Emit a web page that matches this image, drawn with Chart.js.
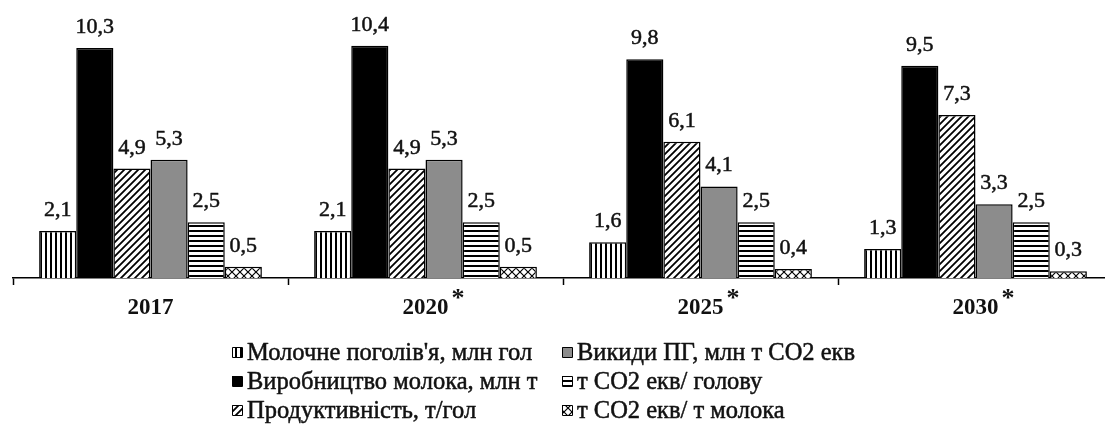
<!DOCTYPE html>
<html>
<head>
<meta charset="utf-8">
<script src="https://cdn.jsdelivr.net/npm/chart.js@4/dist/chart.umd.min.js"></script>
<style>
    html, body { margin: 0; padding: 0; background: #fff; overflow: hidden; }
    #wrap { width: 1120px; height: 425px; }
</style>
</head>
<body>
<div id="wrap"><canvas id="milkChart"></canvas></div>
<script>
// Дані діаграми
const categories = ['2017', '2020', '2025', '2030'];
const forecastMarks = ['', '*', '*', '*'];
const seriesNames = [
    "Молочне поголів'я, млн гол",
    'Виробництво молока, млн т',
    'Продуктивність, т/гол',
    'Викиди ПГ, млн т СО2 екв',
    'т СО2 екв/ голову',
    'т СО2 екв/ т молока'
];
const dairyHerd = [2.1, 2.1, 1.6, 1.3];
const milkOutput = [10.3, 10.4, 9.8, 9.5];
const productivity = [4.9, 4.9, 6.1, 7.3];
const ghgEmissions = [5.3, 5.3, 4.1, 3.3];
const co2PerHead = [2.5, 2.5, 2.5, 2.5];
const co2PerTonMilk = [0.5, 0.5, 0.4, 0.3];

const FONT = '"Liberation Serif", "Times New Roman", serif';

// Штрихування
function makePattern(type) {
    const c = document.createElement('canvas');
    const ctx = c.getContext('2d');
    if (type === 'vertical') {
        c.width = 5; c.height = 5;
        ctx.fillStyle = '#fff'; ctx.fillRect(0, 0, 5, 5);
        ctx.fillStyle = '#000'; ctx.fillRect(0, 0, 2, 5);
    } else if (type === 'horizontal') {
        c.width = 5; c.height = 5;
        ctx.fillStyle = '#fff'; ctx.fillRect(0, 0, 5, 5);
        ctx.fillStyle = '#000'; ctx.fillRect(0, 0, 5, 2);
    } else if (type === 'diagonal') {
        c.width = 7; c.height = 7;
        ctx.fillStyle = '#fff'; ctx.fillRect(0, 0, 7, 7);
        ctx.strokeStyle = '#000'; ctx.lineWidth = 1.8;
        ctx.beginPath();
        ctx.moveTo(-1, 8); ctx.lineTo(8, -1);
        ctx.moveTo(-8, 8); ctx.lineTo(1, -1);
        ctx.moveTo(6, 8); ctx.lineTo(15, -1);
        ctx.stroke();
    } else if (type === 'cross') {
        c.width = 8; c.height = 8;
        ctx.fillStyle = '#fff'; ctx.fillRect(0, 0, 8, 8);
        ctx.strokeStyle = '#000'; ctx.lineWidth = 1.2;
        ctx.beginPath();
        ctx.moveTo(0, 0); ctx.lineTo(8, 8);
        ctx.moveTo(8, 0); ctx.lineTo(0, 8);
        ctx.stroke();
    }
    return document.getElementById('milkChart').getContext('2d').createPattern(c, 'repeat');
}

const fills = [
    makePattern('vertical'),
    '#000000',
    makePattern('diagonal'),
    '#8c8c8c',
    makePattern('horizontal'),
    makePattern('cross')
];
const seriesData = [dairyHerd, milkOutput, productivity, ghgEmissions, co2PerHead, co2PerTonMilk];

const fmt = v => v.toFixed(1).replace('.', ',');

// текст трохи жирніший, як на скані
function heavyText(ctx, text, x, y, weight) {
    ctx.lineWidth = weight;
    ctx.strokeStyle = ctx.fillStyle;
    ctx.strokeText(text, x, y);
    ctx.fillText(text, x, y);
}

// Підписи значень, підписи років та легенда
const labelsPlugin = {
    id: 'labelsPlugin',
    afterDraw(chart) {
        const ctx = chart.ctx;
        const xScale = chart.scales.x;
        ctx.save();
        ctx.fillStyle = '#111';
        ctx.textAlign = 'center';
        ctx.textBaseline = 'alphabetic';
        ctx.lineJoin = 'round';
        ctx.font = '22px ' + FONT;
        chart.data.datasets.forEach((ds, di) => {
            chart.getDatasetMeta(di).data.forEach((bar, i) => {
                heavyText(ctx, fmt(ds.data[i]), bar.x, bar.y - 15, 0.5);
            });
        });

        // роки
        ctx.font = 'bold 23px ' + FONT;
        categories.forEach((cat, i) => {
            const x = xScale.getPixelForValue(i);
            ctx.textAlign = 'center';
            ctx.fillText(cat, x, 314);
            if (forecastMarks[i]) {
                const w = ctx.measureText(cat).width;
                ctx.textAlign = 'left';
                ctx.font = 'bold 26px ' + FONT;
                ctx.fillText(forecastMarks[i], x + w / 2 + 3, 306);
                ctx.font = 'bold 23px ' + FONT;
            }
        });

        // легенда
        ctx.font = '24.5px ' + FONT;
        ctx.textAlign = 'left';
        const colX = [232, 562];
        const rowY = [360, 389, 418];
        chart.data.datasets.forEach((ds, di) => {
            const col = Math.floor(di / 3);
            const row = di % 3;
            const mx = colX[col];
            const my = rowY[row] - 13;
            ctx.fillStyle = ds.backgroundColor;
            ctx.fillRect(mx, my, 10, 10);
            ctx.strokeStyle = '#000';
            ctx.lineWidth = 1;
            ctx.strokeRect(mx + 0.5, my + 0.5, 10, 10);
            ctx.fillStyle = '#111';
            heavyText(ctx, ds.label, mx + 15, rowY[row], 0.5);
        });
        ctx.restore();
    }
};

new Chart(document.getElementById('milkChart'), {
    type: 'bar',
    data: {
        labels: categories,
        datasets: seriesNames.map((name, i) => ({
            label: name,
            data: seriesData[i],
            backgroundColor: fills[i],
            borderColor: '#000',
            borderWidth: 1.5,
            categoryPercentage: 0.81,
            barPercentage: 1
        }))
    },
    options: {
        responsive: true,
        maintainAspectRatio: false,
        animation: false,
        layout: {
            padding: { left: 13, right: 7, top: 10, bottom: 140 }
        },
        scales: {
            x: {
                offset: true,
                grid: {
                    display: true,
                    offset: true,
                    drawOnChartArea: false,
                    drawTicks: true,
                    tickLength: 7,
                    tickWidth: 1.5,
                    tickColor: '#000'
                },
                border: { display: true, color: '#000', width: 1.5 },
                ticks: { display: false }
            },
            y: {
                display: false,
                min: 0,
                max: 12
            }
        },
        plugins: {
            legend: { display: false },
            tooltip: { enabled: false }
        }
    },
    plugins: [labelsPlugin]
});
</script>
</body>
</html>
